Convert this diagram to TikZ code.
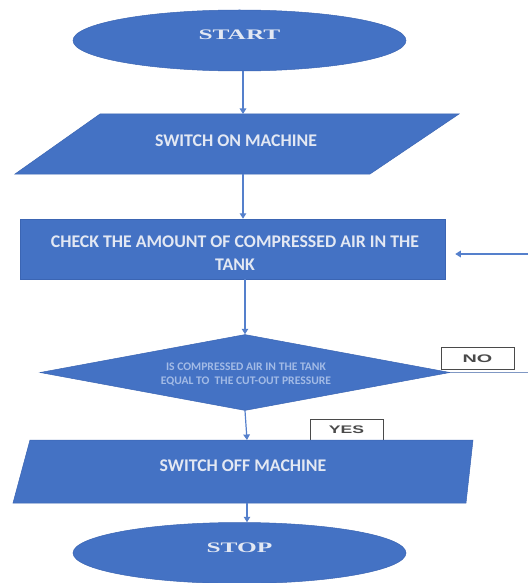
\documentclass[tikz,border=0pt]{standalone}
\usepackage{fontspec}
\usepackage{graphicx}
\usetikzlibrary{shapes.geometric,arrows.meta}
\setmainfont{Liberation Serif}
\newfontfamily\calib{Carlito}
\newfontfamily\arialf{Liberation Sans}
\definecolor{fblue}{HTML}{4472C4}
\definecolor{fedge}{HTML}{3B65B3}
\definecolor{ltext}{HTML}{E3E8F3}
\definecolor{dtext}{HTML}{A3BBE6}
\definecolor{lineblue}{HTML}{5580CC}
\definecolor{noline}{HTML}{8098C4}
\definecolor{boxgray}{HTML}{4A4A4A}
\begin{document}
\begin{tikzpicture}[x=1pt,y=-1pt,
 flow/.style={fill=fblue,draw=fedge,line width=0.5pt},
 term/.style={flow,ellipse,minimum width=333pt,minimum height=61pt,inner sep=0pt},
 ttl/.style={text=ltext,inner sep=0pt,font=\bfseries\fontsize{14.5}{16}\selectfont},
 body/.style={text=ltext,font=\calib\bfseries\fontsize{17.8}{23}\selectfont,align=center,inner sep=0pt},
 small/.style={text=dtext,font=\calib\bfseries\fontsize{11.6}{14.5}\selectfont,align=center,inner sep=0pt},
 tag/.style={draw=boxgray,fill=white,line width=0.9pt,minimum width=73pt,minimum height=22pt,inner sep=0pt,text=boxgray,font=\arialf\bfseries\fontsize{11}{13}\selectfont},
 arr/.style={draw=lineblue,line width=1.2pt,-{Triangle[length=5.5pt,width=6.5pt]}},
 ln/.style={draw=noline,line width=1pt}]
\useasboundingbox (0,0) rectangle (528,583);
\fill[white] (0,0) rectangle (528,583);

% START
\node[term] (start) at (239.5,40.5) {};
\node[ttl] (startt) at (239.5,35) {\scalebox{1.75}[1]{START}};

% switch on
\path[flow] (100,114) -- (459,114) -- (370,174) -- (15,174) -- cycle;
\node[body] (on) at (236,140.5) {SWITCH ON MACHINE};
\coordinate (p1n) at (243,114);
\coordinate (p1s) at (243,174);

% check
\node[flow,rectangle,minimum width=425pt,minimum height=60pt,inner sep=0pt] (chk) at (232.5,249) {};
\node[body] (chkt) at (235,253.5) {CHECK THE AMOUNT OF COMPRESSED AIR IN THE\\TANK};

% decision
\node[flow,diamond,aspect=5.4,minimum width=410pt,minimum height=76pt,inner sep=0pt] (dec) at (245,372.5) {};
\node[small] (dect) at (246,374.5) {IS COMPRESSED AIR IN THE TANK\\EQUAL TO \ THE CUT-OUT PRESSURE};

% NO
\node[tag] (no) at (477.5,358.5) {\scalebox{1.8}[1]{NO}};
\coordinate (noend) at (528,372.5);
\coordinate (back) at (528,254);

% YES (behind switch off)
\node[tag] (yes) at (346.5,430) {\scalebox{1.6}[1]{YES}};

% switch off
\path[flow] (30,440) -- (473,440) -- (466,503) -- (13,503) -- cycle;
\node[body] (off) at (243,465.5) {SWITCH OFF MACHINE};
\coordinate (p2n) at (247,440);
\coordinate (p2s) at (247,503);

% STOP
\node[term] (stop) at (239.5,553) {};
\node[ttl] (stopt) at (239.5,548) {\scalebox{1.75}[1]{STOP}};

% connectors
\draw[arr] (start.south -| p1n) -- (p1n);
\draw[arr] (p1s) -- (p1s |- chk.north);
\draw[arr] (dec.north |- chk.south) -- (dec.north);
\draw[ln] (dec.east) -- (noend);
\draw[arr,shorten >=10pt] (back) -- (back -| chk.east);
\draw[arr] (dec.south) -- (p2n);
\draw[arr] (p2s) -- (p2s |- stop.north);
\end{tikzpicture}
\end{document}
